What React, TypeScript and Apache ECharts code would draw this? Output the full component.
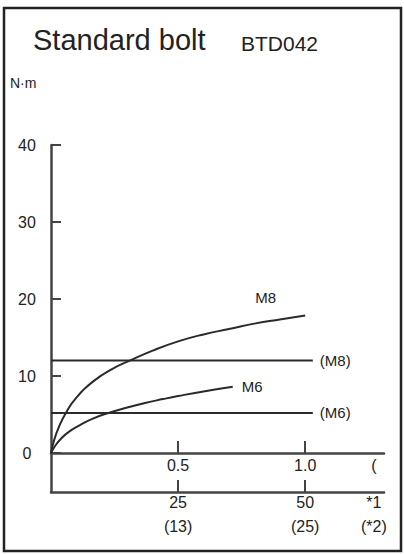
import React, { useEffect, useRef } from "react";
import * as echarts from "echarts";

const titleMain = "Standard bolt";
const titleCode = "BTD042";
const yUnit = "N·m";

const yTicks = [0, 10, 20, 30, 40];

// Upper x axis tick labels
const xTopValues = [0.5, 1.0, 1.27];
const xTopLabels = ["0.5", "1.0", "("];
// Lower x axis tick labels
const xBottomValues = [0.5, 1.0, 1.27];
const xBottomLabels = ["25\n(13)", "50\n(25)", "*1\n(*2)"];
const xTickValues = [0.5, 1.0];

// Curves
const m8X = [0, 0.01, 0.03, 0.06, 0.1, 0.17, 0.24, 0.31, 0.4, 0.5, 0.6, 0.7, 0.8, 0.9, 1.0];
const m8Y = [0, 1.4, 3.3, 5.3, 7.2, 9.4, 10.9, 12.0, 13.3, 14.5, 15.4, 16.1, 16.8, 17.35, 17.85];
const m6X = [0, 0.02, 0.042, 0.07, 0.107, 0.16, 0.226, 0.3, 0.37, 0.44, 0.5, 0.6, 0.715];
const m6Y = [0, 1.1, 1.95, 2.75, 3.5, 4.4, 5.2, 5.9, 6.5, 7.0, 7.4, 8.0, 8.6];

// Reference levels
const limitX = [0, 1.03];
const m8Limit = 12;
const m6Limit = 5.2;

const FONT = "Liberation Sans, Arial, sans-serif";
const INK = "#222";
const LINE = "#2a2a2a";
const AXIS = "#444";

export default function App() {
  const ref = useRef<HTMLDivElement>(null);
  useEffect(() => {
    if (!ref.current) return;
    const chart = echarts.init(ref.current, undefined, { renderer: "svg" });
    const pts = (xs: number[], ys: number[]) => xs.map((x, i) => [x, ys[i]]);
    const lbl = (vals: number[], texts: string[]) => (v: number) => {
      const i = vals.findIndex((t) => Math.abs(t - v) < 1e-6);
      return i >= 0 ? texts[i] : "";
    };
    const lineLabel = (text: string, extra: object = {}) => ({
      show: true,
      formatter: text,
      fontSize: 15,
      color: INK,
      fontFamily: FONT,
      ...extra,
    });
    chart.setOption({
      animation: false,
      backgroundColor: "#fff",
      textStyle: { fontFamily: FONT, color: INK },
      graphic: [
        {
          type: "rect",
          shape: { x: 4, y: 8, width: 397, height: 543 },
          style: { fill: "none", stroke: INK, lineWidth: 2.5 },
          silent: true,
        },
        {
          type: "text",
          x: 33,
          y: 40,
          style: { text: titleMain, font: `29px ${FONT}`, fill: INK, textVerticalAlign: "middle" },
        },
        {
          type: "text",
          x: 241,
          y: 43,
          style: { text: titleCode, font: `21px ${FONT}`, fill: INK, textVerticalAlign: "middle" },
        },
        {
          type: "text",
          x: 10,
          y: 83,
          style: { text: yUnit, font: `14px ${FONT}`, fill: INK, textVerticalAlign: "middle" },
        },
      ],
      grid: [
        { left: 51, top: 145, width: 333, height: 308 },
        { left: 51, top: 453, width: 333, height: 39 },
      ],
      xAxis: [
        {
          gridIndex: 0,
          type: "value",
          min: 0,
          max: 1.31,
          axisLine: { show: true, onZero: true, lineStyle: { color: AXIS, width: 2.5 } },
          axisTick: {
            show: true,
            inside: true,
            length: 12,
            customValues: xTickValues,
            lineStyle: { color: AXIS, width: 2 },
          },
          axisLabel: {
            show: true,
            customValues: xTopValues,
            formatter: lbl(xTopValues, xTopLabels),
            fontSize: 16,
            color: INK,
            margin: 4,
            fontFamily: FONT,
          },
          splitLine: { show: false },
        },
        {
          gridIndex: 1,
          type: "value",
          min: 0,
          max: 1.31,
          position: "bottom",
          axisLine: { show: true, onZero: false, lineStyle: { color: AXIS, width: 2.5 } },
          axisTick: {
            show: true,
            inside: true,
            length: 12,
            customValues: xTickValues,
            lineStyle: { color: AXIS, width: 2 },
          },
          axisLabel: {
            show: true,
            customValues: xBottomValues,
            formatter: lbl(xBottomValues, xBottomLabels),
            fontSize: 16,
            lineHeight: 24,
            color: INK,
            margin: -2,
            fontFamily: FONT,
          },
          splitLine: { show: false },
        },
      ],
      yAxis: [
        {
          gridIndex: 0,
          type: "value",
          min: 0,
          max: 40,
          interval: 10,
          axisLine: { show: true, lineStyle: { color: AXIS, width: 2.5 } },
          axisTick: { show: true, inside: true, length: 10, lineStyle: { color: AXIS, width: 2 } },
          axisLabel: {
            show: true,
            customValues: yTicks,
            align: "center",
            margin: 24,
            fontSize: 16,
            color: INK,
            fontFamily: FONT,
          },
          splitLine: { show: false },
        },
        {
          gridIndex: 1,
          type: "value",
          min: 0,
          max: 1,
          axisLine: { show: true, lineStyle: { color: AXIS, width: 2.5 } },
          axisTick: { show: false },
          axisLabel: { show: false },
          splitLine: { show: false },
        },
      ],
      series: [
        {
          type: "line",
          name: "M8",
          data: pts(m8X, m8Y),
          smooth: 0.5,
          symbol: "none",
          lineStyle: { color: LINE, width: 2 },
          endLabel: lineLabel("M8", { offset: [-58, -18] }),
        },
        {
          type: "line",
          name: "M6",
          data: pts(m6X, m6Y),
          smooth: 0.5,
          symbol: "none",
          lineStyle: { color: LINE, width: 2 },
          endLabel: lineLabel("M6", { distance: 9 }),
        },
        {
          type: "line",
          name: "(M8)",
          data: limitX.map((x) => [x, m8Limit]),
          symbol: "none",
          lineStyle: { color: LINE, width: 2 },
          endLabel: lineLabel("(M8)", { distance: 7 }),
        },
        {
          type: "line",
          name: "(M6)",
          data: limitX.map((x) => [x, m6Limit]),
          symbol: "none",
          lineStyle: { color: LINE, width: 2 },
          endLabel: lineLabel("(M6)", { distance: 7 }),
        },
      ],
    });
    return () => chart.dispose();
  }, []);
  return (
    <div
      ref={ref}
      style={{ position: "absolute", left: 0, top: 0, width: 404, height: 554 }}
    />
  );
}
